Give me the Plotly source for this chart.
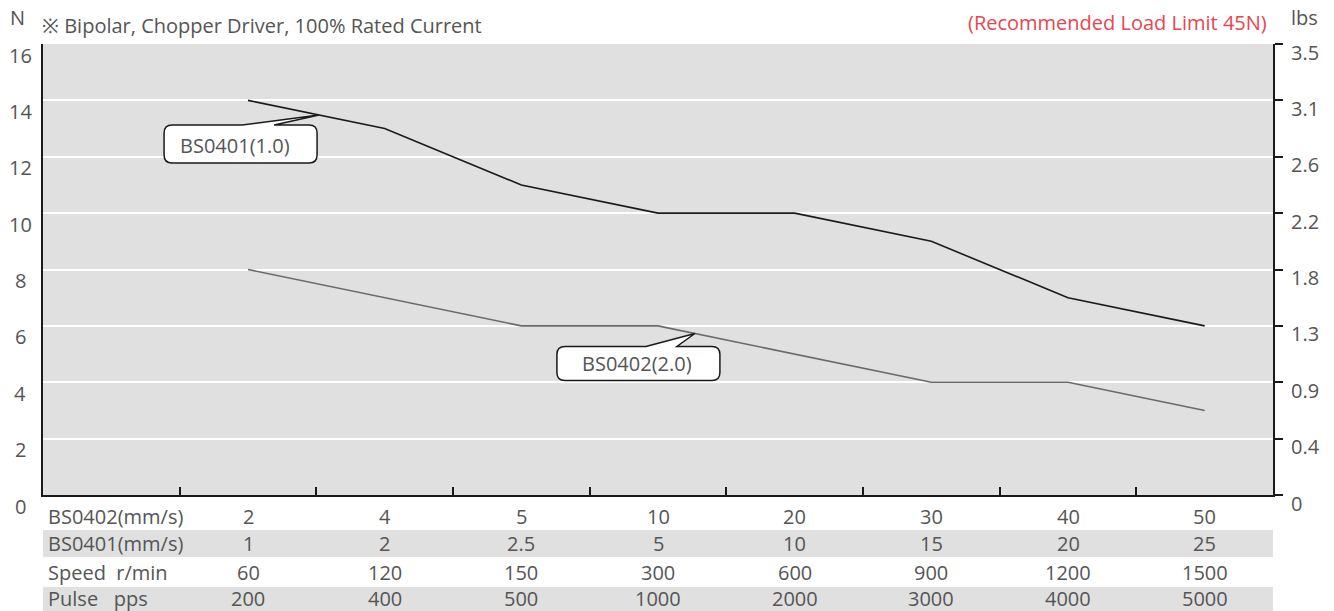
import plotly.graph_objects as go

# ---------------- data ----------------
cat_index = [0, 1, 2, 3, 4, 5, 6, 7]
bs0402_mms = ["2", "4", "5", "10", "20", "30", "40", "50"]
bs0401_mms = ["1", "2", "2.5", "5", "10", "15", "20", "25"]
speed_rmin = ["60", "120", "150", "300", "600", "900", "1200", "1500"]
pulse_pps = ["200", "400", "500", "1000", "2000", "3000", "4000", "5000"]
thrust_bs0401 = [14, 13, 11, 10, 10, 9, 7, 6]
thrust_bs0402 = [8, 7, 6, 6, 5, 4, 4, 3]
n_ticks = [0, 2, 4, 6, 8, 10, 12, 14, 16]
lbs_labels = ["0", "0.4", "0.9", "1.3", "1.8", "2.2", "2.6", "3.1", "3.5"]
row_labels = ["BS0402(mm/s)", "BS0401(mm/s)", "Speed  r/min", "Pulse   pps"]
rows = [bs0402_mms, bs0401_mms, speed_rmin, pulse_pps]

FONT = "Open Sans"
TXT = "#555555"
FS = 20

fig = go.Figure()
fig.add_trace(go.Scatter(x=cat_index, y=thrust_bs0401, mode="lines",
                         line=dict(color="#1a1a1a", width=1.6), showlegend=False,
                         hoverinfo="skip"))
fig.add_trace(go.Scatter(x=cat_index, y=thrust_bs0402, mode="lines",
                         line=dict(color="#6a6a6a", width=1.6), showlegend=False,
                         hoverinfo="skip"))
# invisible trace to activate right axis
fig.add_trace(go.Scatter(x=[cat_index[0]], y=[0], yaxis="y2", mode="markers",
                         marker=dict(opacity=0), showlegend=False, hoverinfo="skip"))

ann = []
shapes = []

# axis tick labels as annotations (offset below their ticks as in reference)
for v in n_ticks:
    ann.append(dict(x=0, xref="paper", y=v, yref="y", text=str(v), showarrow=False,
                    xanchor="center", yanchor="middle", xshift=-23, yshift=-11,
                    font=dict(size=FS, color=TXT, family=FONT)))
for v, t in zip(n_ticks, lbs_labels):
    ann.append(dict(x=1, xref="paper", y=v, yref="y", text=t, showarrow=False,
                    xanchor="left", yanchor="middle", xshift=16, yshift=-8,
                    font=dict(size=FS, color=TXT, family=FONT)))

# table rows
row_shifts = [-21, -48, -77, -103]
for lab, vals, ys in zip(row_labels, rows, row_shifts):
    ann.append(dict(x=0, xref="paper", y=0, yref="paper", text=lab, showarrow=False,
                    xanchor="left", yanchor="middle", xshift=3, yshift=ys,
                    font=dict(size=FS, color=TXT, family=FONT)))
    for xi, t in zip(cat_index, vals):
        ann.append(dict(x=xi, xref="x", y=0, yref="paper", text=t, showarrow=False,
                        xanchor="center", yanchor="middle", yshift=ys,
                        font=dict(size=FS, color=TXT, family=FONT)))

plot_h = 611 - 44 - 116
def pfrac(px):
    return (495 - px) / plot_h

for y0, y1 in [(530, 557), (587, 611)]:
    shapes.append(dict(type="rect", xref="paper", yref="paper", x0=0, x1=1,
                       y0=pfrac(y1), y1=pfrac(y0), fillcolor="#e0e0e0",
                       line=dict(width=0), layer="below"))

# header texts
ann.append(dict(x=0, xref="paper", y=1, yref="paper", text="N", showarrow=False,
                xanchor="center", yanchor="middle", xshift=-26, yshift=27,
                font=dict(size=FS, color=TXT, family=FONT)))
ann.append(dict(x=0, xref="paper", y=1, yref="paper",
                text="※ Bipolar, Chopper Driver, 100% Rated Current", showarrow=False,
                xanchor="left", yanchor="middle", xshift=-3, yshift=19,
                font=dict(size=FS, color=TXT, family=FONT)))
ann.append(dict(x=1, xref="paper", y=1, yref="paper",
                text="(Recommended Load Limit 45N)", showarrow=False,
                xanchor="right", yanchor="middle", xshift=-4, yshift=22,
                font=dict(size=FS, color="#e8464e", family=FONT)))
ann.append(dict(x=1, xref="paper", y=1, yref="paper", text="lbs", showarrow=False,
                xanchor="left", yanchor="middle", xshift=16, yshift=27,
                font=dict(size=FS, color=TXT, family=FONT)))

# callouts: tip on a curve segment, bubble drawn in pixel offsets from tip
def callout(series, seg, frac, label, box, tail, text_off):
    tx = cat_index[seg] + frac
    ty = series[seg] + (series[seg + 1] - series[seg]) * frac
    l, r, t, b = box
    rad = 8
    tl, tr = tail
    path = (f"M {tl},{t} L 0,0 L {tr},{t} L {r-rad},{t} Q {r},{t} {r},{t-rad} "
            f"L {r},{b+rad} Q {r},{b} {r-rad},{b} L {l+rad},{b} Q {l},{b} {l},{b+rad} "
            f"L {l},{t-rad} Q {l},{t} {l+rad},{t} Z")
    shapes.append(dict(type="path", xref="x", yref="y", xsizemode="pixel",
                       ysizemode="pixel", xanchor=tx, yanchor=ty, path=path,
                       fillcolor="white", line=dict(color="#1a1a1a", width=1.5)))
    ann.append(dict(x=tx, y=ty, xref="x", yref="y", text=label, showarrow=False,
                    xanchor="center", yanchor="middle",
                    xshift=text_off[0], yshift=text_off[1],
                    font=dict(size=FS, color=TXT, family=FONT)))

callout(thrust_bs0401, 0, 0.52, "BS0401(1.0)", (-155, -2, -10, -48), (-77, -45), (-84, -30))
callout(thrust_bs0402, 3, 0.27, "BS0402(2.0)", (-138, 25, -13, -47), (-49, -18), (-58, -30))

fig.update_layout(
    width=1334, height=611,
    margin=dict(l=43, r=61, t=44, b=116),
    paper_bgcolor="white", plot_bgcolor="#e0e0e0",
    font=dict(family=FONT, size=FS, color=TXT),
    xaxis=dict(range=[-1.5, 7.5], tickmode="array",
               tickvals=[i - 0.5 for i in cat_index], showticklabels=False,
               ticks="inside", ticklen=8, tickwidth=2, tickcolor="#1a1a1a",
               showgrid=False, zeroline=False, showline=True, linecolor="#1a1a1a",
               linewidth=2, fixedrange=True),
    yaxis=dict(range=[0, 16], tickmode="array", tickvals=n_ticks, showticklabels=False,
               showgrid=True, gridcolor="white", gridwidth=2, zeroline=False,
               showline=True, linecolor="#1a1a1a", linewidth=2, ticks="", fixedrange=True),
    yaxis2=dict(range=[0, 16], overlaying="y", side="right", tickmode="array",
                tickvals=n_ticks, showticklabels=False, showgrid=False, zeroline=False,
                showline=True, linecolor="#1a1a1a", linewidth=2, ticks="outside",
                ticklen=8, tickwidth=2, tickcolor="#1a1a1a", fixedrange=True),
    annotations=ann, shapes=shapes, showlegend=False,
)

fig.write_html("out.html")
